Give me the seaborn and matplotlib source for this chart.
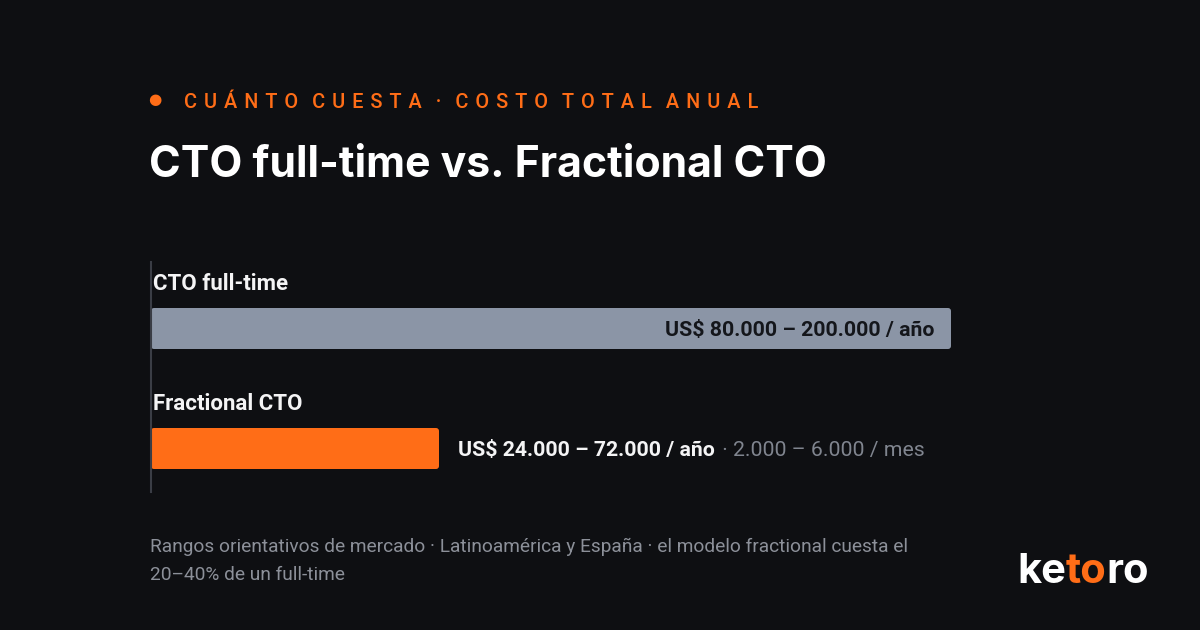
import matplotlib
matplotlib.use("Agg")
import matplotlib.pyplot as plt
import seaborn as sns
import pandas as pd
from matplotlib.patches import FancyBboxPatch

# ---- data ----
categories = ["CTO full-time", "Fractional CTO"]
annual_low = [80000, 24000]
annual_high = [200000, 72000]
monthly_low = [None, 2000]
monthly_high = [None, 6000]
bar_colors = ["#8b95a6", "#ff6d17"]

def fmt(v):
    return f"{v:,.0f}".replace(",", ".")

df = pd.DataFrame({"cat": categories, "high": annual_high})

BG = "#0e0f12"
ORANGE = "#ff6d17"
sns.set_theme(style="white")
plt.rcParams["font.family"] = ["Roboto", "DejaVu Sans"]

fig = plt.figure(figsize=(12, 6.3), dpi=100, facecolor=BG)
W, H = 1200, 630
ax = fig.add_axes([151 / W, 1 - 492 / H, 800 / W, 230 / H])
ax.set_facecolor(BG)

sns.barplot(data=df, x="high", y="cat", hue="cat", palette=bar_colors,
            orient="h", width=41 / 120, ax=ax, legend=False, saturation=1)

ax.set_xlim(0, 200000)
ax.set_ylim(1 + 43.5 / 120, -66.5 / 120)
ax.set_xticks([]); ax.set_yticks([])
ax.set_xlabel(""); ax.set_ylabel("")
for s in ["top", "right", "bottom"]:
    ax.spines[s].set_visible(False)
ax.spines["left"].set_color("#3a3d45")
ax.spines["left"].set_linewidth(1.5)

# rounded bars
xpp = 200000 / 800
ypp = 1 / 120
for p in list(ax.patches):
    x, y = p.get_x(), p.get_y()
    w, h = p.get_width(), p.get_height()
    fc = p.get_facecolor()
    p.remove()
    fb = FancyBboxPatch((x, y), w, h,
                        boxstyle=f"round,pad=0,rounding_size={3 * xpp}",
                        mutation_aspect=ypp / xpp, facecolor=fc,
                        edgecolor="none", zorder=2)
    ax.add_patch(fb)

# category labels
for i, c in enumerate(categories):
    ax.annotate(c, xy=(0, i), xytext=(2, 44), textcoords="offset pixels",
                ha="left", va="center", fontsize=16, fontweight="semibold",
                color="#f4f4f5")

# value labels
VS = 15.3
t0 = ax.annotate(f"US$ {fmt(annual_low[0])} – {fmt(annual_high[0])} / año",
                 xy=(annual_high[0], 0), xytext=(-17, -2), textcoords="offset pixels",
                 ha="right", va="center", fontsize=VS, fontweight="semibold",
                 color="#14161b")
t1 = ax.annotate(f"US$ {fmt(annual_low[1])} – {fmt(annual_high[1])} / año",
                 xy=(annual_high[1], 1), xytext=(19, -2), textcoords="offset pixels",
                 ha="left", va="center", fontsize=VS, fontweight="semibold",
                 color="#f4f4f5")
ax.annotate(f" · {fmt(monthly_low[1])} – {fmt(monthly_high[1])} / mes",
            xy=(1, 0.5), xycoords=t1, xytext=(2, 0), textcoords="offset pixels",
            ha="left", va="center", fontsize=VS, color="#80858f")

# header
fig.text(155 / W, 1 - 100 / H, "●", color=ORANGE, fontsize=11, ha="center", va="center",
         family=["DejaVu Sans"])
gap = " \u200a"
eyebrow = (gap * 2 + "·" + gap * 2).join(
    (gap * 2).join(gap.join(w) for w in part.split(" "))
    for part in ["CUÁNTO CUESTA", "COSTO TOTAL ANUAL"])
fig.text(184 / W, 1 - 102 / H, eyebrow, color=ORANGE, fontsize=14.3,
         fontweight="medium", ha="left", va="center")
fig.text(149 / W, 1 - 166 / H, "CTO full-time vs. Fractional CTO", color="#ffffff",
         fontsize=30.8, fontweight="bold", ha="left", va="center",
         family=["Inter", "DejaVu Sans"])

# footnote
fig.text(150 / W, 1 - 547 / H,
         "Rangos orientativos de mercado · Latinoamérica y España · el modelo fractional cuesta el",
         color="#8c9099", fontsize=13.8, ha="left", va="center")
fig.text(150 / W, 1 - 575 / H, "20–40% de un full-time",
         color="#8c9099", fontsize=13.8, ha="left", va="center")

# logo
lk = dict(fontsize=30, fontweight="bold", va="bottom", family=["Inter", "DejaVu Sans"])
l1 = fig.text(1017 / W, 1 - 591 / H, "ke", color="white", ha="left", **lk)
l2 = ax.annotate("to", xy=(1, 0), xycoords=l1, xytext=(0, 0), textcoords="offset pixels",
                 color=ORANGE, ha="left", annotation_clip=False, **lk)
ax.annotate("ro", xy=(1, 0), xycoords=l2, xytext=(0, 0), textcoords="offset pixels",
            color="white", ha="left", annotation_clip=False, **lk)

fig.savefig("out.png", dpi=100, facecolor=BG)
